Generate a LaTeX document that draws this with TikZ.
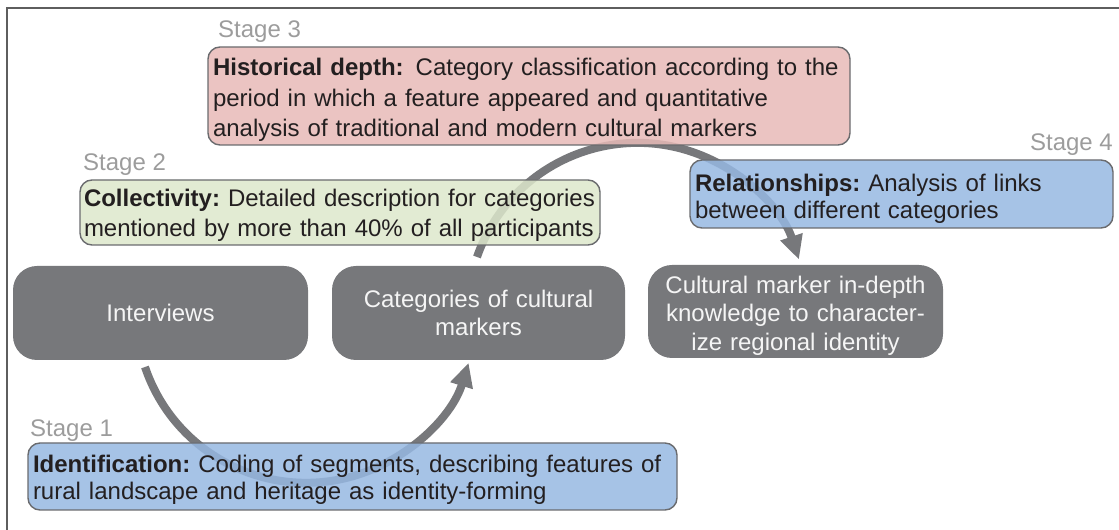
\documentclass[tikz,border=0pt]{standalone}
\usepackage{fontspec}
\setmainfont{Liberation Sans}
\usetikzlibrary{arrows.meta}
\frenchspacing
\definecolor{pinkfill}{HTML}{E7BAB7}
\definecolor{greenfill}{HTML}{DDE7CB}
\definecolor{bluefill}{HTML}{96B8E2}
\definecolor{graybox}{HTML}{77787B}
\definecolor{boxline}{HTML}{6A6B6E}
\definecolor{stagegray}{HTML}{9C9C9C}
\definecolor{framegray}{HTML}{5E5E5E}
\definecolor{txt}{HTML}{231F20}
\newcommand{\lift}[1]{\rule{0pt}{#1}}
\tikzset{
  stagebox/.style={draw=boxline, line width=1.4pt, rounded corners=12pt,
    fill opacity=0.85, text opacity=1, draw opacity=1, inner xsep=5pt, inner ysep=0pt,
    align=left, text=txt},
  darkbox/.style={font=\fontsize{24}{28.5}\selectfont, fill=graybox, rounded corners=24pt, inner sep=0pt,
    align=center, text=white!96!black},
  stagelabel/.style={font=\fontsize{24}{29}\selectfont, text=stagegray, inner sep=0pt},
  cycarrow/.style={draw=graybox, line width=8pt, -{Triangle[length=24pt,width=22pt]}},
  frameline/.style={draw=framegray, line width=2pt}
}
\begin{document}
\begin{tikzpicture}[x=1pt,y=1pt]
\useasboundingbox (0,0) rectangle (1119,530);
\draw[frameline] (7,0) |- (1119,522);

% gray process boxes
\node[darkbox, minimum width=295pt, minimum height=94pt, text width=280pt] (interviews) at (160.5,217) {Interviews};
\node[darkbox, minimum width=293pt, minimum height=94pt, text width=280pt] (categories) at (478.5,217) {Categories of cultural\\markers};
\node[darkbox, minimum width=295pt, minimum height=93pt, text width=285pt] (knowledge) at (795.5,218.5) {\lift{25.5pt}Cultural marker in-depth\\knowledge to character-\\ize regional identity};

% cycle arrows
\coordinate (a1s) at (145,163);
\coordinate (a2s) at (477,273);
\draw[cycarrow] (a1s) arc[start angle=198.6, end angle=342.9, radius=170pt];
\draw[cycarrow] (a2s) arc[start angle=160.8, end angle=18.3, radius=170pt];

% stage boxes
\node[stagebox, font=\fontsize{24}{30.5}\selectfont, fill=pinkfill, minimum width=642pt, minimum height=98pt, text width=632pt] (s3) at (529,434)
  {\lift{25pt}\textbf{Historical depth:}\enspace Category classification according to the\\period in which a feature appeared and quantitative\\analysis of traditional and modern cultural markers};
\node[stagebox, font=\fontsize{24}{30}\selectfont, fill=greenfill, minimum width=520pt, minimum height=65pt, text width=512pt, inner xsep=4pt] (s2) at (340,317.5)
  {\lift{22.5pt}\textbf{Collectivity:} Detailed description for categories\\mentioned by more than 40\% of all participants};
\node[stagebox, font=\fontsize{24}{27}\selectfont, fill=bluefill, minimum width=423pt, minimum height=68pt, text width=413pt] (s4) at (901.5,336)
  {\lift{27pt}\textbf{Relationships:} Analysis of links\\between different categories};
\node[stagebox, font=\fontsize{24}{27}\selectfont, fill=bluefill, minimum width=649pt, minimum height=67pt, text width=639pt] (s1) at (352.5,53.5)
  {\lift{23.5pt}\textbf{Identification:} Coding of segments, describing features of\\rural landscape and heritage as identity-forming};

% stage labels
\node[stagelabel, anchor=west] (l3) at (218,498) {Stage 3};
\node[stagelabel, anchor=west] (l2) at (83,365) {Stage 2};
\node[stagelabel, anchor=east] (l4) at (1113,385) {Stage 4};
\node[stagelabel, anchor=west] (l1) at (30,99) {Stage 1};
\end{tikzpicture}
\end{document}
